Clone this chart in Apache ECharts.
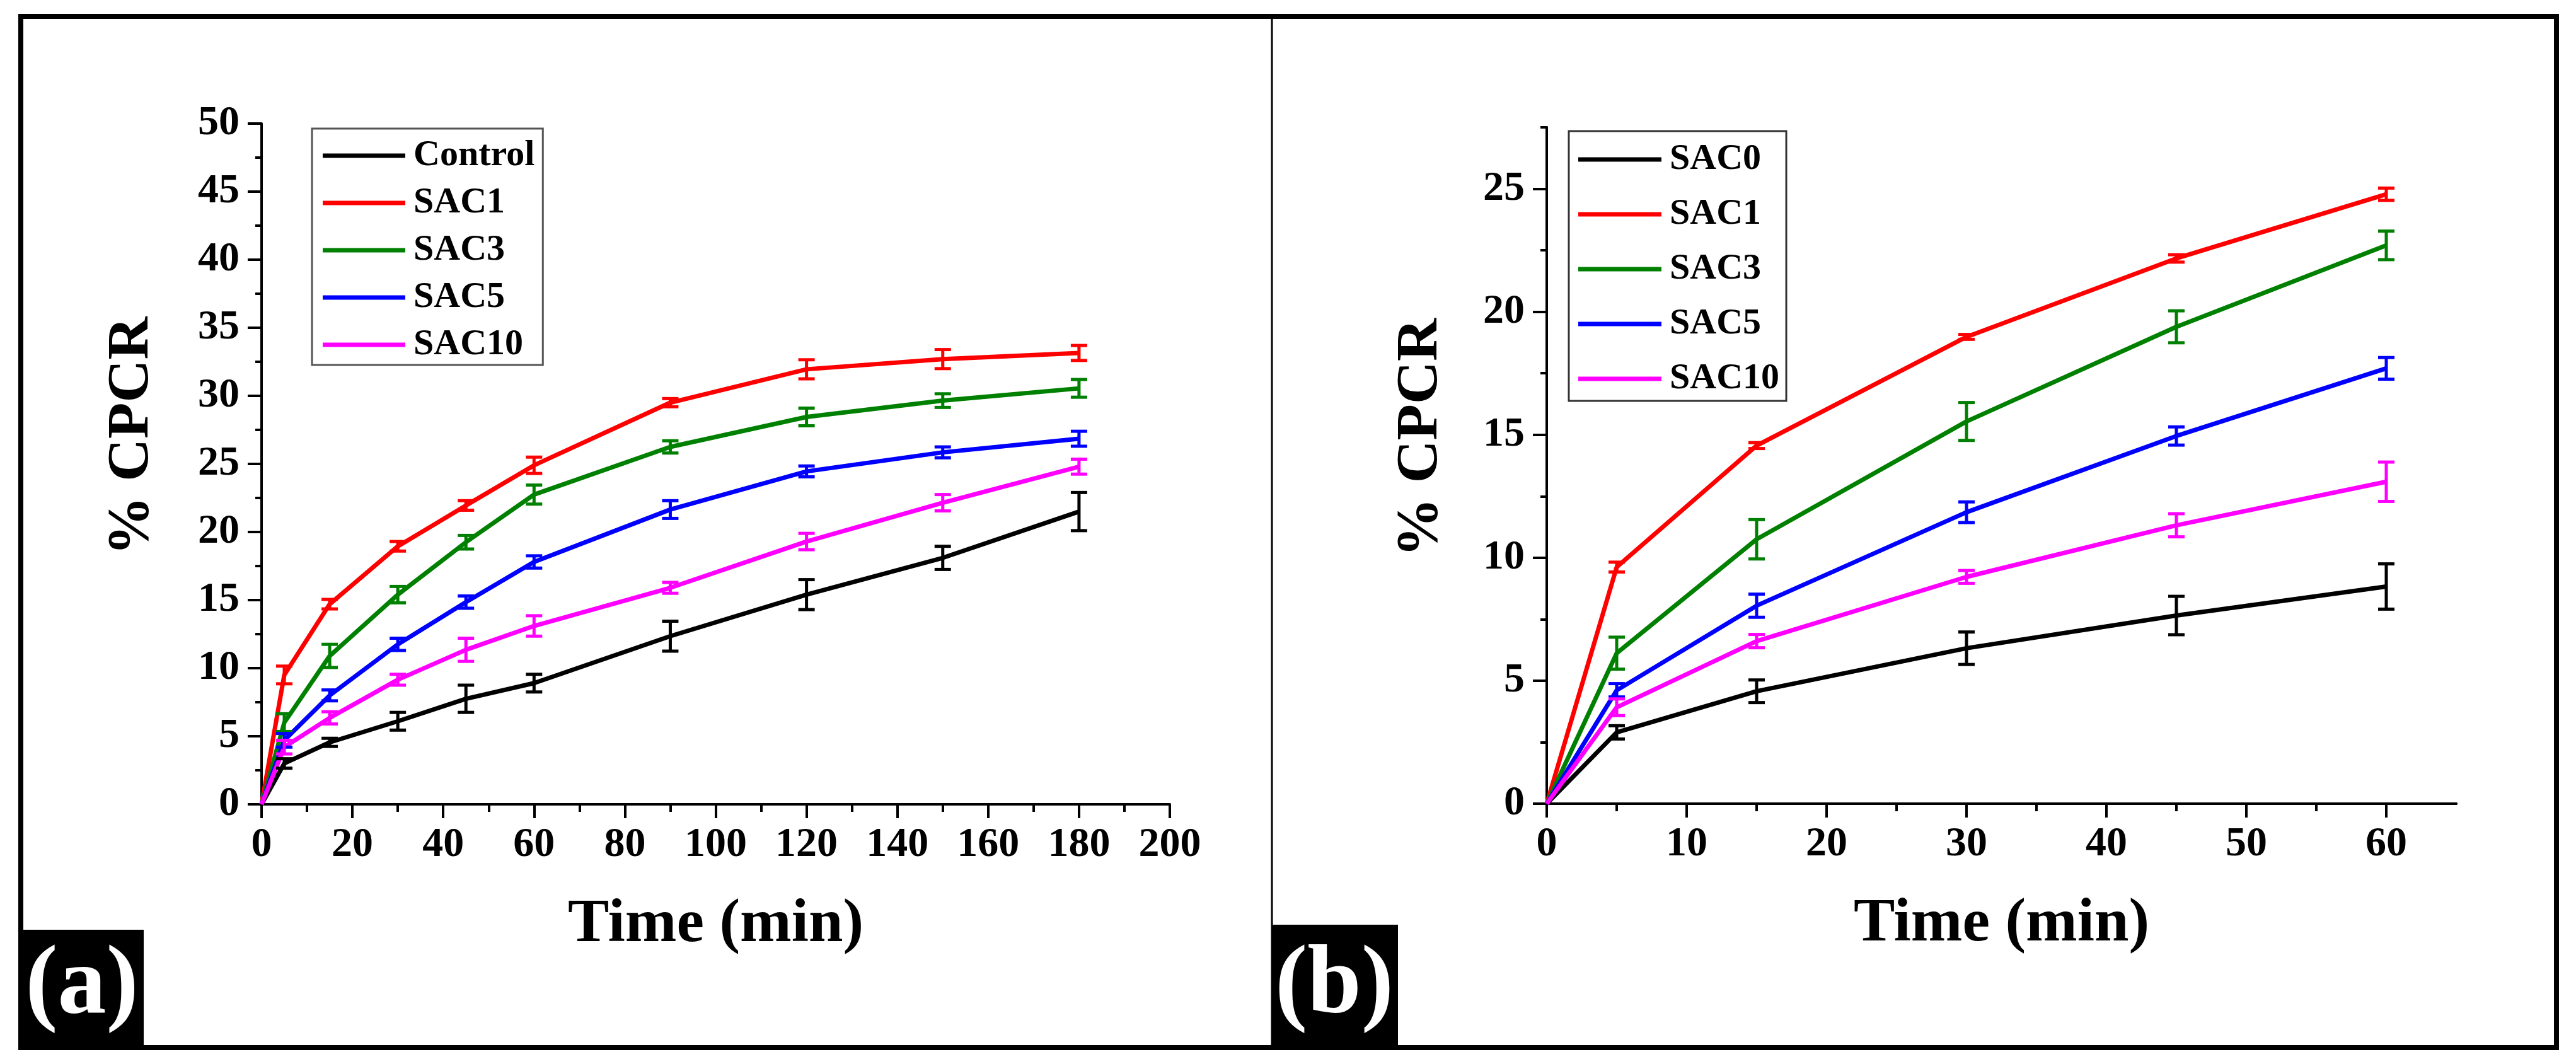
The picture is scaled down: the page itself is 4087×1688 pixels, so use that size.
<!DOCTYPE html>
<html><head><meta charset="utf-8">
<script src="https://cdn.jsdelivr.net/npm/echarts@6.0.0/dist/echarts.min.js"></script>
<style>html,body{margin:0;padding:0;background:#fff}#c{width:4087px;height:1688px}</style>
</head><body><div id="c"></div>
<script>
// ---------- Panel (a) ----------
const timeA = [0, 5, 15, 30, 45, 60, 90, 120, 150, 180];
const controlA = [0, 3.0, 4.55, 6.1, 7.75, 8.9, 12.35, 15.4, 18.1, 21.5];
const sac1A = [0, 9.5, 14.7, 18.95, 21.95, 24.9, 29.5, 31.95, 32.7, 33.15];
const sac3A = [0, 6.0, 10.9, 15.4, 19.25, 22.75, 26.25, 28.45, 29.65, 30.55];
const sac5A = [0, 4.7, 8.0, 11.75, 14.85, 17.8, 21.65, 24.45, 25.85, 26.85];
const sac10A = [0, 4.2, 6.35, 9.15, 11.35, 13.1, 15.9, 19.3, 22.15, 24.8];
const controlErrA = [0, 0.35, 0.3, 0.65, 1.0, 0.65, 1.1, 1.1, 0.85, 1.4];
const sac1ErrA = [0, 0.65, 0.35, 0.35, 0.35, 0.6, 0.3, 0.7, 0.7, 0.55];
const sac3ErrA = [0, 0.65, 0.85, 0.6, 0.5, 0.7, 0.45, 0.65, 0.5, 0.65];
const sac5ErrA = [0, 0.5, 0.4, 0.45, 0.45, 0.45, 0.65, 0.4, 0.4, 0.55];
const sac10ErrA = [0, 0.5, 0.45, 0.4, 0.85, 0.75, 0.4, 0.6, 0.6, 0.55];
const namesA = ['Control', 'SAC1', 'SAC3', 'SAC5', 'SAC10'];

// ---------- Panel (b) ----------
const timeB = [0, 5, 15, 30, 45, 60];
const sac0B = [0, 2.9, 4.57, 6.32, 7.65, 8.83];
const sac1B = [0, 9.62, 14.56, 18.98, 22.17, 24.78];
const sac3B = [0, 6.12, 10.75, 15.54, 19.39, 22.7];
const sac5B = [0, 4.61, 8.05, 11.85, 14.95, 17.7];
const sac10B = [0, 3.92, 6.61, 9.22, 11.32, 13.09];
const sac0ErrB = [0, 0.27, 0.46, 0.66, 0.78, 0.92];
const sac1ErrB = [0, 0.2, 0.12, 0.1, 0.15, 0.25];
const sac3ErrB = [0, 0.65, 0.8, 0.77, 0.65, 0.58];
const sac5ErrB = [0, 0.27, 0.47, 0.42, 0.37, 0.44];
const sac10ErrB = [0, 0.34, 0.27, 0.26, 0.47, 0.8];
const namesB = ['SAC0', 'SAC1', 'SAC3', 'SAC5', 'SAC10'];

// tick values
const xMajorB = [0, 10, 20, 30, 40, 50, 60];
const xMinorB = [5, 15, 25, 35, 45, 55];
const yMajorB = [0, 5, 10, 15, 20, 25];
const yMinorB = [2.5, 7.5, 12.5, 17.5, 22.5, 27.5];

const colorList = ['#000000', '#ff0000', '#008000', '#0000ff', '#ff00ff'];
const FONT = '"Liberation Serif", "Times New Roman", serif';

function lineData(xs, ys) { return xs.map((x, i) => [x, ys[i]]); }
function errData(xs, ys, es) {
  const out = [];
  for (let i = 0; i < xs.length; i++) if (es[i] > 0) out.push([xs[i], ys[i] - es[i], ys[i] + es[i]]);
  return out;
}
function errRender(params, api) {
  const x = api.value(0);
  const p1 = api.coord([x, api.value(1)]);
  const p2 = api.coord([x, api.value(2)]);
  const w = 13;
  const st = { stroke: api.visual('color'), lineWidth: 5 };
  return { type: 'group', children: [
    { type: 'line', shape: { x1: p1[0], y1: p1[1], x2: p2[0], y2: p2[1] }, style: st },
    { type: 'line', shape: { x1: p1[0] - w, y1: p1[1], x2: p1[0] + w, y2: p1[1] }, style: st },
    { type: 'line', shape: { x1: p2[0] - w, y1: p2[1], x2: p2[0] + w, y2: p2[1] }, style: st }
  ]};
}

const series = [];
function addPanel(names, xs, ysList, errList, xi, yi) {
  names.forEach((n, k) => {
    series.push({ type: 'line', name: n, xAxisIndex: xi, yAxisIndex: yi, data: lineData(xs, ysList[k]),
      showSymbol: false, symbol: 'none', lineStyle: { color: colorList[k], width: 7 },
      itemStyle: { color: colorList[k] }, z: 2, animation: false });
  });
  names.forEach((n, k) => {
    series.push({ type: 'custom', name: n, xAxisIndex: xi, yAxisIndex: yi, renderItem: errRender,
      itemStyle: { color: colorList[k] }, data: errData(xs, ysList[k], errList[k]),
      encode: { x: 0, y: [1, 2] }, z: 3, silent: true, animation: false });
  });
}
addPanel(namesA, timeA, [controlA, sac1A, sac3A, sac5A, sac10A],
  [controlErrA, sac1ErrA, sac3ErrA, sac5ErrA, sac10ErrA], 0, 0);
addPanel(namesB, timeB, [sac0B, sac1B, sac3B, sac5B, sac10B],
  [sac0ErrB, sac1ErrB, sac3ErrB, sac5ErrB, sac10ErrB], 1, 1);

const lbl = { fontFamily: FONT, fontWeight: 'bold', fontSize: 66, color: '#000' };
const axLine = { show: true, onZero: false, lineStyle: { color: '#000', width: 4 } };
const tickStyle = { color: '#000', width: 4 };
const nameX = { fontFamily: FONT, fontWeight: 'bold', fontSize: 98, color: '#000' };
const nameY = { fontFamily: FONT, fontWeight: 'bold', fontSize: 94, color: '#000', padding: [0, 0, 0, 88] };
const legTxt = { fontFamily: FONT, fontWeight: 'bold', fontSize: 58, color: '#000', lineHeight: 58, padding: [0, 0, 0, 8] };

const option = {
  backgroundColor: '#ffffff',
  animation: false,
  grid: [
    { left: 415, top: 196, width: 1441, height: 1080 },
    { left: 2454, top: 202, width: 1443, height: 1073 }
  ],
  xAxis: [
    { gridIndex: 0, type: 'value', min: 0, max: 200, interval: 20, position: 'bottom',
      axisLine: axLine, axisTick: { show: true, length: 22, lineStyle: tickStyle },
      minorTick: { show: true, splitNumber: 2, length: 12, lineStyle: tickStyle },
      axisLabel: Object.assign({ margin: 32 }, lbl), splitLine: { show: false }, minorSplitLine: { show: false },
      name: 'Time (min)', nameLocation: 'middle', nameGap: 143, nameTextStyle: nameX },
    { gridIndex: 1, type: 'value', min: 0, max: 65, interval: 5, position: 'bottom',
      axisLine: axLine, axisTick: { show: true, length: 12, customValues: xMinorB, lineStyle: tickStyle },
      axisLabel: { show: false }, splitLine: { show: false } },
    { gridIndex: 1, type: 'value', min: 0, max: 65, interval: 10, position: 'bottom',
      axisLine: axLine, axisTick: { show: true, length: 22, customValues: xMajorB, lineStyle: tickStyle },
      axisLabel: Object.assign({ margin: 32, customValues: xMajorB }, lbl), splitLine: { show: false },
      name: 'Time (min)', nameLocation: 'middle', nameGap: 143, nameTextStyle: nameX }
  ],
  yAxis: [
    { gridIndex: 0, type: 'value', min: 0, max: 50, interval: 5, position: 'left',
      axisLine: axLine, axisTick: { show: true, length: 22, lineStyle: tickStyle },
      minorTick: { show: true, splitNumber: 2, length: 10, lineStyle: tickStyle },
      axisLabel: Object.assign({ margin: 35 }, lbl), splitLine: { show: false }, minorSplitLine: { show: false },
      name: '% CPCR', nameLocation: 'middle', nameGap: 158, nameRotate: 90, nameTextStyle: nameY },
    { gridIndex: 1, type: 'value', min: 0, max: 27.5, interval: 2.5, position: 'left',
      axisLine: axLine, axisTick: { show: true, length: 10, customValues: yMinorB, lineStyle: tickStyle },
      axisLabel: { show: false }, splitLine: { show: false } },
    { gridIndex: 1, type: 'value', min: 0, max: 27.5, interval: 5, position: 'left',
      axisLine: axLine, axisTick: { show: true, length: 22, customValues: yMajorB, lineStyle: tickStyle },
      axisLabel: Object.assign({ margin: 35, customValues: yMajorB }, lbl), splitLine: { show: false },
      name: '% CPCR', nameLocation: 'middle', nameGap: 152, nameRotate: 90, nameTextStyle: nameY }
  ],
  legend: [
    { data: namesA, orient: 'vertical', left: 495, top: 204, padding: [14, 13, 3, 17], itemGap: 17,
      itemWidth: 131, itemHeight: 7, icon: 'rect', borderColor: '#555', borderWidth: 3,
      backgroundColor: '#fff', textStyle: legTxt, selectedMode: false },
    { data: namesB, orient: 'vertical', left: 2489, top: 208, padding: [16, 11, 6, 15], itemGap: 29,
      itemWidth: 132, itemHeight: 7, icon: 'rect', borderColor: '#333', borderWidth: 3,
      backgroundColor: '#fff', textStyle: legTxt, selectedMode: false }
  ],
  series: series,
  graphic: [
    { type: 'rect', z: 100, shape: { x: 33, y: 26, width: 4023, height: 1636 }, style: { fill: null, stroke: '#000', lineWidth: 8 } },
    { type: 'line', z: 100, shape: { x1: 2018, y1: 26, x2: 2018, y2: 1662 }, style: { stroke: '#000', lineWidth: 3 } },
    { type: 'rect', z: 100, shape: { x: 33, y: 1475, width: 195, height: 187 }, style: { fill: '#000' } },
    { type: 'text', z: 101, x: 130, y: 1566, style: { text: '(a)', fill: '#fff', font: 'bold 154px "Liberation Serif"', textAlign: 'center', textVerticalAlign: 'middle', align: 'center', verticalAlign: 'middle' } },
    { type: 'rect', z: 100, shape: { x: 2017, y: 1467, width: 201, height: 195 }, style: { fill: '#000' } },
    { type: 'text', z: 101, x: 2117, y: 1566, style: { text: '(b)', fill: '#fff', font: 'bold 154px "Liberation Serif"', textAlign: 'center', textVerticalAlign: 'middle', align: 'center', verticalAlign: 'middle' } }
  ]
};
const chart = echarts.init(document.getElementById('c'), null, { renderer: 'canvas', width: 4087, height: 1688 });
chart.setOption(option);
</script></body></html>
